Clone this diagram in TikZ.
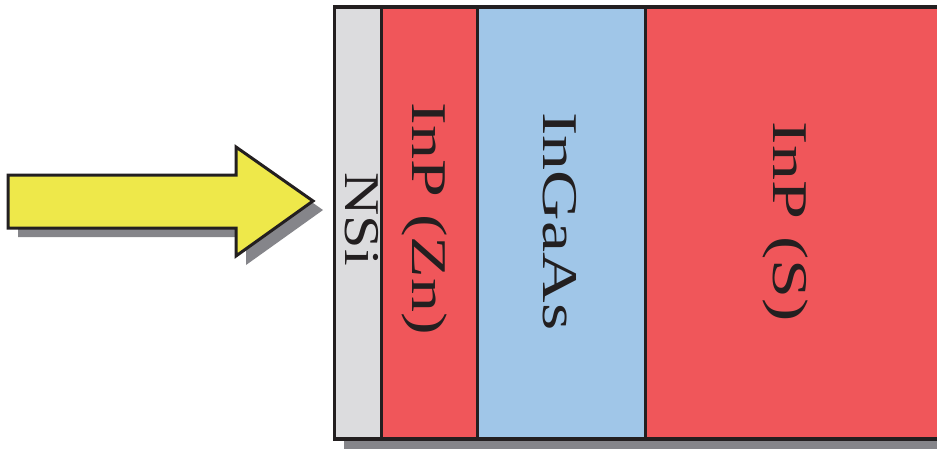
\documentclass[tikz,border=0pt]{standalone}
\usepackage{fontspec}
\setmainfont{Liberation Serif}
\definecolor{edge}{HTML}{231F20}
\definecolor{shade}{HTML}{85858A}
\definecolor{nsigray}{HTML}{DCDCDE}
\definecolor{inpred}{HTML}{F0565A}
\definecolor{ingablue}{HTML}{A0C6E8}
\definecolor{arrowyellow}{HTML}{EEE84A}
\tikzset{
  layerbox/.style={draw=edge, line width=3.2pt},
  layertext/.style={rotate=-90, anchor=base, inner sep=0pt, text=edge,
    font=\fontsize{50}{60}\selectfont},
  shadowfill/.style={fill=shade, draw=none},
  arrowbody/.style={fill=arrowyellow, draw=edge, line width=3pt, line join=miter}
}
\begin{document}
\begin{tikzpicture}[x=1pt, y=-1pt]
\useasboundingbox (0,0) rectangle (937,448);
% shadows
\fill[shadowfill] (344,16) rectangle (950,449);
\fill[shadowfill] (18,184) -- (246,184) -- (246,156) -- (323,210) -- (246,265) -- (246,237) -- (18,237) -- cycle;
% arrow
\draw[arrowbody] (8,175) -- (236,175) -- (236,147) -- (313,201) -- (236,256) -- (236,228) -- (8,228) -- cycle;
% layers
\filldraw[layerbox, fill=nsigray] (334.5,7) rectangle (381.5,439);
\filldraw[layerbox, fill=inpred] (381.5,7) rectangle (477.5,439);
\filldraw[layerbox, fill=ingablue] (477.5,7) rectangle (645.5,439);
\filldraw[layerbox, fill=inpred] (645.5,7) rectangle (960,439);
% labels
\node[layertext] (tnsi) at (345,219) {\scalebox{1.2}[1]{NSi}};
\node[layertext] (tinpzn) at (412,219) {\scalebox{1.36}[1]{InP (Zn)}};
\node[layertext] (tingaas) at (543,221.5) {\scalebox{1.4}[1]{InGaAs}};
\node[layertext] (tinps) at (773,222) {\scalebox{1.4}[1]{InP (S)}};
\end{tikzpicture}
\end{document}
